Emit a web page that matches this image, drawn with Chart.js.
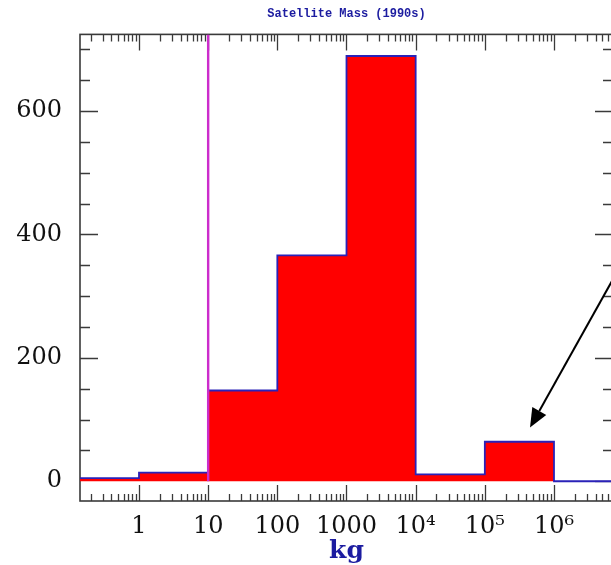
<!DOCTYPE html>
<html>
<head>
<meta charset="utf-8">
<script src="https://cdn.jsdelivr.net/npm/chart.js@4.4.1/dist/chart.umd.min.js"></script>
<style>
  html, body { margin: 0; padding: 0; background: #fff; overflow: hidden; }
  #wrap { width: 611px; height: 565px; overflow: hidden; position: relative; }
  #wrap canvas { position: absolute; left: 0; top: 0; }
</style>
</head>
<body>
<div id="wrap"><canvas id="massChart" width="640" height="565"></canvas></div>
<script>
// 衛星質量直方圖（1990 年代），x 軸為對數 kg
// bin 邊界與每個 bin 的數量
const binEdges = [0.1, 1, 10, 100, 1000, 1e4, 1e5, 1e6, 1e7];
const binCounts = [5, 14, 147, 366, 689, 11, 64, 0];

const xTickValues = [1, 10, 100, 1000, 1e4, 1e5, 1e6];
const xTickLabels = ["1", "10", "100", "1000", "10⁴", "10⁵", "10⁶"];
const yTickValues = [0, 200, 400, 600];
const yMinorStep = 50;

const xRange = [0.1403, 7.13e6];
const yRange = [-32, 724];

// 洋紅色標記線與箭頭（資料座標）
const markerX = 10;
const arrowFrom = { x: 2.4e7, y: 433 };
const arrowTo = { x: 4.5e5, y: 87 };

const COLORS = {
  fill: "#ff0000",
  outline: "#2a22b8",
  marker: "#cc2ccc",
  frame: "#3a3a3a",
  text: "#111111",
  title: "#1c1ca0",
};

const histPoints = binEdges.map((e, i) => ({ x: e, y: binCounts[Math.min(i, binCounts.length - 1)] }));

// 框線 + 四邊朝內刻度（畫在資料下方）
const framePlugin = {
  id: "frameTicks",
  beforeDatasetsDraw(chart) {
    const { ctx, chartArea: a, scales } = chart;
    const xs = scales.x, ys = scales.y;
    ctx.save();
    ctx.strokeStyle = COLORS.frame;
    ctx.lineWidth = 1.3;

    // x 刻度：十進位主刻度、2..9 次刻度
    const xMinor = [];
    for (let d = 0.1; d <= 1e7; d *= 10) {
      for (let k = 2; k <= 9; k++) xMinor.push(d * k);
    }
    const drawX = (v, len) => {
      if (v < xRange[0] || v > xRange[1]) return;
      const px = Math.round(xs.getPixelForValue(v)) + 0.5;
      ctx.beginPath();
      ctx.moveTo(px, a.bottom); ctx.lineTo(px, a.bottom - len);
      ctx.moveTo(px, a.top); ctx.lineTo(px, a.top + len);
      ctx.stroke();
    };
    xMinor.forEach((v) => drawX(v, 7));
    xTickValues.forEach((v) => drawX(v, 16));

    const drawY = (v, len) => {
      const py = Math.round(ys.getPixelForValue(v)) + 0.5;
      ctx.beginPath();
      // y=0 左側刻度被第一個 bin 蓋住
      if (v !== 0) { ctx.moveTo(a.left, py); ctx.lineTo(a.left + len, py); }
      ctx.moveTo(a.right, py); ctx.lineTo(a.right - len, py);
      ctx.stroke();
    };
    for (let v = 0; v <= yRange[1]; v += yMinorStep) {
      if (!yTickValues.includes(v)) drawY(v, 10);
    }
    yTickValues.forEach((v) => drawY(v, 18));

    ctx.lineWidth = 1.6;
    ctx.strokeRect(a.left, a.top, a.right - a.left, a.bottom - a.top);
    ctx.restore();
  },
  // 箭頭畫在最上層
  afterDatasetsDraw(chart) {
    const { ctx, scales } = chart;
    const xs = scales.x, ys = scales.y;
    const x0 = xs.getPixelForValue(arrowFrom.x), y0 = ys.getPixelForValue(arrowFrom.y);
    const x1 = xs.getPixelForValue(arrowTo.x), y1 = ys.getPixelForValue(arrowTo.y);
    const ang = Math.atan2(y1 - y0, x1 - x0);
    const headLen = 19, headW = 8;
    const bx = x1 - headLen * Math.cos(ang), by = y1 - headLen * Math.sin(ang);
    ctx.save();
    ctx.strokeStyle = "#000";
    ctx.fillStyle = "#000";
    ctx.lineWidth = 2;
    ctx.beginPath();
    ctx.moveTo(x0, y0); ctx.lineTo(bx, by);
    ctx.stroke();
    ctx.beginPath();
    ctx.moveTo(x1, y1);
    ctx.lineTo(bx + headW * Math.sin(ang), by - headW * Math.cos(ang));
    ctx.lineTo(bx - headW * Math.sin(ang), by + headW * Math.cos(ang));
    ctx.closePath();
    ctx.fill();
    ctx.restore();
  },
};

new Chart(document.getElementById("massChart").getContext("2d"), {
  type: "line",
  data: {
    datasets: [
      {
        label: "marker",
        data: [{ x: markerX, y: 0 }, { x: markerX, y: yRange[1] }],
        borderColor: COLORS.marker,
        borderWidth: 2.4,
        pointRadius: 0,
        fill: false,
      },
      {
        label: "satellites",
        data: histPoints,
        stepped: "before",
        borderColor: COLORS.outline,
        backgroundColor: COLORS.fill,
        borderWidth: 1.8,
        pointRadius: 0,
        fill: "origin",
      },
    ],
  },
  options: {
    responsive: false,
    animation: false,
    layout: { padding: { left: 0, right: 27, top: 0, bottom: 0 } },
    plugins: {
      legend: { display: false },
      tooltip: { enabled: false },
      title: {
        display: true,
        fullSize: false,
        text: "Satellite Mass (1990s)",
        color: COLORS.title,
        font: { family: "Liberation Mono", size: 12, weight: "bold", lineHeight: 1.2 },
        padding: { top: 7, bottom: 13 },
      },
    },
    scales: {
      x: {
        type: "logarithmic",
        min: xRange[0],
        max: xRange[1],
        afterBuildTicks: (s) => { s.ticks = xTickValues.map((v) => ({ value: v })); },
        afterFit: (s) => { s.height = 64; },
        ticks: {
          autoSkip: false,
          maxRotation: 0,
          padding: 11,
          color: COLORS.text,
          font: { family: "DejaVu Serif", size: 24 },
          callback: (v, i) => xTickLabels[i],
        },
        grid: { display: false, drawTicks: false },
        border: { display: false },
        title: {
          display: true,
          text: "kg",
          color: COLORS.title,
          font: { family: "DejaVu Serif", size: 25, weight: "bold", lineHeight: 1 },
          padding: { top: 0, bottom: 1 },
        },
      },
      y: {
        type: "linear",
        min: yRange[0],
        max: yRange[1],
        afterBuildTicks: (s) => { s.ticks = yTickValues.map((v) => ({ value: v })); },
        afterFit: (s) => { s.width = 80; },
        ticks: {
          padding: 18,
          color: COLORS.text,
          font: { family: "DejaVu Serif", size: 24 },
        },
        grid: { display: false, drawTicks: false },
        border: { display: false },
      },
    },
  },
  plugins: [framePlugin],
});
</script>
</body>
</html>
